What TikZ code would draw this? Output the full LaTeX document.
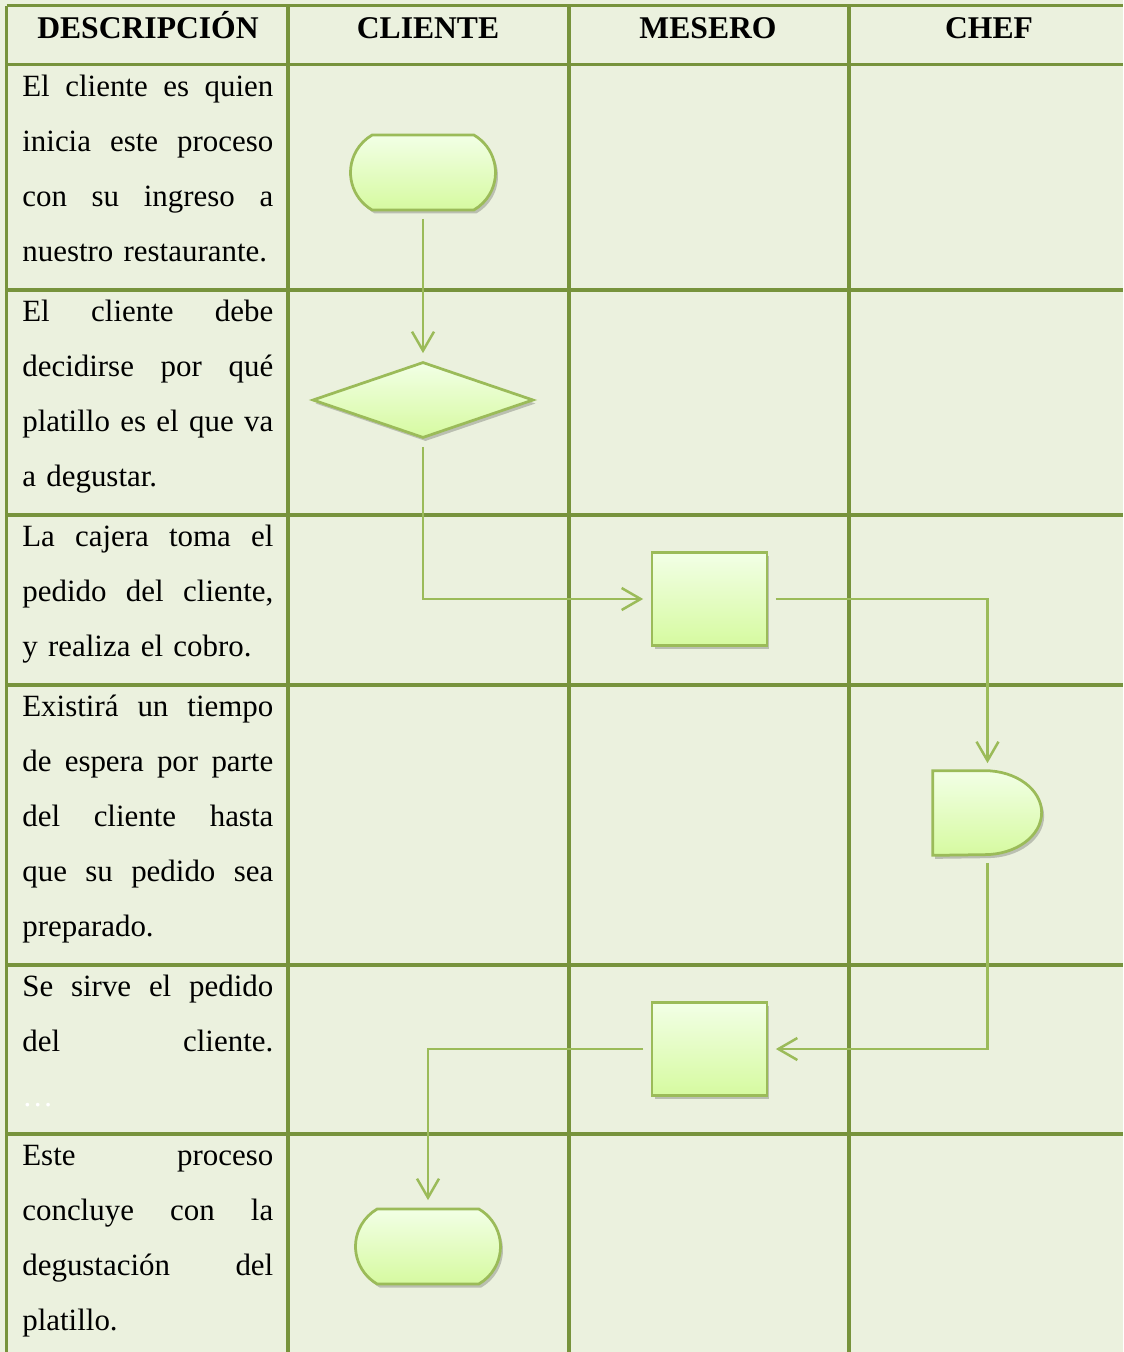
\documentclass[tikz,border=0pt]{standalone}
\usepackage{fontspec}
\setmainfont{Liberation Serif}
\usetikzlibrary{arrows.meta,shapes.geometric,shapes.misc,shadows}

\definecolor{fondo}{RGB}{235,241,222}
\definecolor{rejilla}{RGB}{119,147,60}
\definecolor{bordeverde}{RGB}{155,187,89}
\definecolor{claro}{RGB}{242,255,230}
\definecolor{oscuro}{RGB}{214,250,160}

% linea justificada
\newcommand{\jl}[1]{{\frenchspacing\spaceskip=0.25em plus 1fil minus 0.06em
    \makebox[5.02cm][s]{#1}}}

\begin{document}
\begin{tikzpicture}[
            x=0.02cm, y=0.02cm,
            rejilla/.style ={draw=rejilla, line width=0.075cm},
            forma/.style   ={draw=bordeverde, line width=0.055cm,
                             top color=claro, bottom color=oscuro,
                             drop shadow={shadow xshift=0.05cm, shadow yshift=-0.07cm,
                                          opacity=0.3, fill=black!70}},
            termino/.style ={forma, rounded rectangle, rounded rectangle arc length=120,
                             minimum width=2.9cm, minimum height=1.5cm, inner sep=0pt},
            decision/.style={forma, diamond, aspect=2.9, minimum width=4.42cm,
                             minimum height=1.52cm, inner sep=0pt},
            proceso/.style ={forma, rectangle, minimum width=2.3cm,
                             minimum height=1.85cm, inner sep=0pt},
            flujo/.style   ={-{Straight Barb[length=0.38cm, width=0.44cm]},
                             draw=bordeverde, line width=0.05cm,
                             shorten <=0.15cm, shorten >=0.15cm},
            titulo/.style  ={anchor=base, font=\bfseries\fontsize{18}{20}\selectfont},
            desc/.style    ={anchor=base west, text width=5.02cm, inner sep=0pt,
                             font=\fontsize{17.6}{31.3}\selectfont}
        ]
            %-----------------  Fondo y rejilla  --------------------
            \useasboundingbox (0,0) rectangle (1123,-1352);
            \fill[fondo] (0,0) rectangle (1123,-1352);
            \foreach \y in {-5.5,-64.5,-290,-515,-685,-965,-1134}
                \draw[rejilla] (6.5,\y) -- (1123,\y);
            \foreach \x in {6.5,288,569,849}
                \draw[rejilla] (\x,-5.5) -- (\x,-1352);

            %-----------------  Encabezados  --------------------
            \node[titulo] (hdesc) at (148,-38) {DESCRIPCIÓN};
            \node[titulo] (hcli)  at (428,-38) {CLIENTE};
            \node[titulo] (hmes)  at (708,-38) {MESERO};
            \node[titulo] (hchef) at (989,-38) {CHEF};

            %-----------------  Descripciones  --------------------
            \node[desc] (d1) at (22,-96.5)
                {\jl{El cliente es quien}\\ \jl{inicia este proceso}\\
                 \jl{con su ingreso a}\\ nuestro restaurante.};
            \node[desc] (d2) at (22,-321.5)
                {\jl{El cliente debe}\\ \jl{decidirse por qué}\\
                 \jl{platillo es el que va}\\ a degustar.};
            \node[desc] (d3) at (22,-546.5)
                {\jl{La cajera toma el}\\ \jl{pedido del cliente,}\\
                 y realiza el cobro.};
            \node[desc] (d4) at (22,-716.5)
                {\jl{Existirá un tiempo}\\ \jl{de espera por parte}\\
                 \jl{del cliente hasta}\\ \jl{que su pedido sea}\\ preparado.};
            \node[desc] (d5) at (22,-996.5)
                {\jl{Se sirve el pedido}\\ \jl{del cliente.}\\
                 \textcolor{white}{\dots}};
            \node[desc] (d6) at (22,-1165.5)
                {\jl{Este proceso}\\ \jl{concluye con la}\\
                 \jl{degustación del}\\ platillo.};

            %-----------------  Diagrama  --------------------
            \node[termino]  (ini)    at (423,-172.5) {};
            \node[decision] (decide) at (423,-400) {};
            \node[proceso]  (pedido) at (709.5,-599) {};
            \node[minimum width=2.18cm, minimum height=1.68cm, inner sep=0pt]
                            (espera) at (987.5,-813) {};
            \path[forma] (espera.north west) -- ++(1.04cm,0)
                arc[start angle=90, end angle=-90, x radius=1.14cm, y radius=0.84cm]
                -- (espera.south west) -- cycle;
            \node[proceso]  (sirve)  at (709.5,-1049) {};
            \node[termino]  (fin)    at (428,-1246.5) {};

            % Conectores
            \draw[flujo] (ini) -- (decide);
            \draw[flujo] (decide) |- (pedido);
            \draw[flujo] (pedido) -| (espera);
            \draw[flujo] (espera) |- (sirve);
            \draw[flujo] (sirve) -| (fin);
        \end{tikzpicture}
\end{document}
